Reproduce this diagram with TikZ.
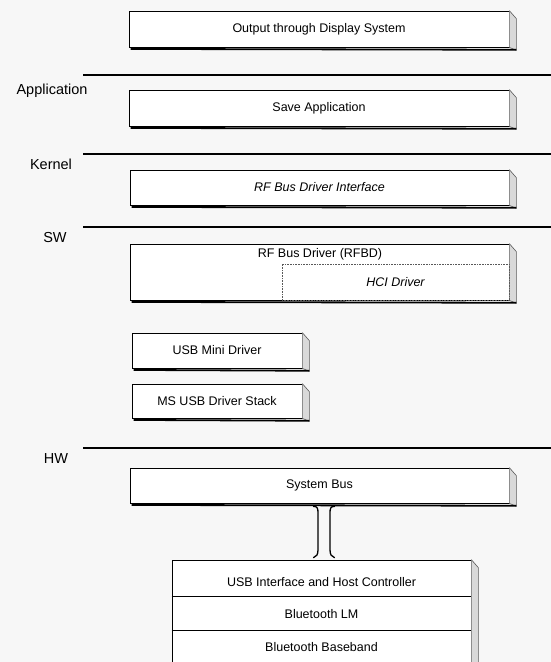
\documentclass[tikz,border=0pt]{standalone}
\usepackage{fontspec}
\setmainfont{Liberation Sans}
\newcommand\slabdecor[1]{%
  \fill[gray!30] (#1.north east) -- ++(7,8) -- ([xshift=7pt,yshift=-3pt]#1.south east) -- (#1.south east) -- cycle;
  \draw[line width=0.6pt, gray!70!black] (#1.north east) -- ++(7,8) -- ([xshift=7pt,yshift=-3pt]#1.south east) -- (#1.south east);
  \draw[line width=1.8pt] ([xshift=2pt,yshift=-1.6pt]#1.south west) -- ([xshift=7pt,yshift=-2.4pt]#1.south east);
}
\begin{document}
\begin{tikzpicture}[x=1pt,y=-1pt,
  boxtxt/.style={font=\fontsize{12.5}{14}\selectfont},
  itxt/.style={font=\fontsize{12.5}{14}\selectfont\itshape},
  lbl/.style={font=\fontsize{14.5}{16}\selectfont},
  sep/.style={line width=2.4pt},
  slab/.style={draw, line width=0.7pt, fill=white, inner sep=0pt, font=\fontsize{12.5}{14}\selectfont},
  subbox/.style={draw=gray!70!black, densely dotted, line width=0.6pt, inner sep=0pt},
  conn/.style={line width=1.3pt, line cap=round}]
\useasboundingbox (0,0) rectangle (551,662);
\fill[white!97!black] (0,0) rectangle (551,662);

% separators
\coordinate (s1a) at (83,75);  \coordinate (s1b) at (551,75);
\coordinate (s2a) at (83,154); \coordinate (s2b) at (551,154);
\coordinate (s3a) at (83,227); \coordinate (s3b) at (551,227);
\coordinate (s4a) at (83,448); \coordinate (s4b) at (551,448);
\draw[sep] (s1a) -- (s1b);
\draw[sep] (s2a) -- (s2b);
\draw[sep] (s3a) -- (s3b);
\draw[sep] (s4a) -- (s4b);

% layer labels
\node[lbl, anchor=west] (lapp) at (13,91) {Application};
\node[lbl] (lker) at (51,164) {Kernel};
\node[lbl] (lsw) at (55,238) {SW};
\node[lbl] (lhw) at (56,459) {HW};

% boxes
\node[slab, minimum width=380pt, minimum height=36pt] (out) at (319,29) {Output through Display System};
\slabdecor{out}
\node[slab, minimum width=380pt, minimum height=36pt] (save) at (319,108) {Save Application};
\slabdecor{save}
\node[slab, minimum width=379pt, minimum height=35pt, font=\fontsize{12.5}{14}\selectfont\itshape] (rfbi) at (319.5,187.5) {RF Bus Driver Interface};
\slabdecor{rfbi}
\node[slab, minimum width=379pt, minimum height=56pt] (rfbd) at (319.5,272) {};
\slabdecor{rfbd}
\node[boxtxt] (rfbdt) at (320,254) {RF Bus Driver (RFBD)};
\node[subbox, minimum width=227pt, minimum height=36pt, itxt] (hci) at (395.5,282) {HCI Driver};

\node[slab, minimum width=170pt, minimum height=35pt] (mini) at (217,350.5) {USB Mini Driver};
\slabdecor{mini}
\node[slab, minimum width=170pt, minimum height=34pt] (stack) at (217,401) {MS USB Driver Stack};
\slabdecor{stack}

\node[slab, minimum width=379pt, minimum height=35pt] (sb) at (319.5,485.5) {System Bus};
\slabdecor{sb}

\node[slab, minimum width=299pt, minimum height=110pt] (usb) at (321.5,615) {};
\slabdecor{usb}
\node[boxtxt] (r1) at (321.5,582) {USB Interface and Host Controller};
\node[boxtxt] (r2) at (321.5,614) {Bluetooth LM};
\node[boxtxt] (r3) at (321.5,647) {Bluetooth Baseband};
\draw[line width=0.6pt] ([yshift=-37pt]usb.north west) -- ([yshift=-37pt]usb.north east);
\draw[line width=0.6pt] ([yshift=-71pt]usb.north west) -- ([yshift=-71pt]usb.north east);

% bus connector
\draw[conn] ([xshift=-6pt,yshift=-3pt]sb.south) .. controls ([xshift=-2pt,yshift=-3pt]sb.south) and ([xshift=-1.5pt,yshift=-5pt]sb.south) .. ([xshift=-1.5pt,yshift=-10pt]sb.south)
  -- ([xshift=-1.5pt,yshift=10pt]usb.north -| sb.south) .. controls ([xshift=-1.5pt,yshift=5pt]usb.north -| sb.south) and ([xshift=-3pt,yshift=3pt]usb.north -| sb.south) .. ([xshift=-6pt,yshift=2pt]usb.north -| sb.south);
\draw[conn] ([xshift=15pt,yshift=-3pt]sb.south) .. controls ([xshift=11pt,yshift=-3pt]sb.south) and ([xshift=10.5pt,yshift=-5pt]sb.south) .. ([xshift=10.5pt,yshift=-10pt]sb.south)
  -- ([xshift=10.5pt,yshift=10pt]usb.north -| sb.south) .. controls ([xshift=10.5pt,yshift=5pt]usb.north -| sb.south) and ([xshift=12pt,yshift=3pt]usb.north -| sb.south) .. ([xshift=15pt,yshift=2pt]usb.north -| sb.south);
\end{tikzpicture}
\end{document}
